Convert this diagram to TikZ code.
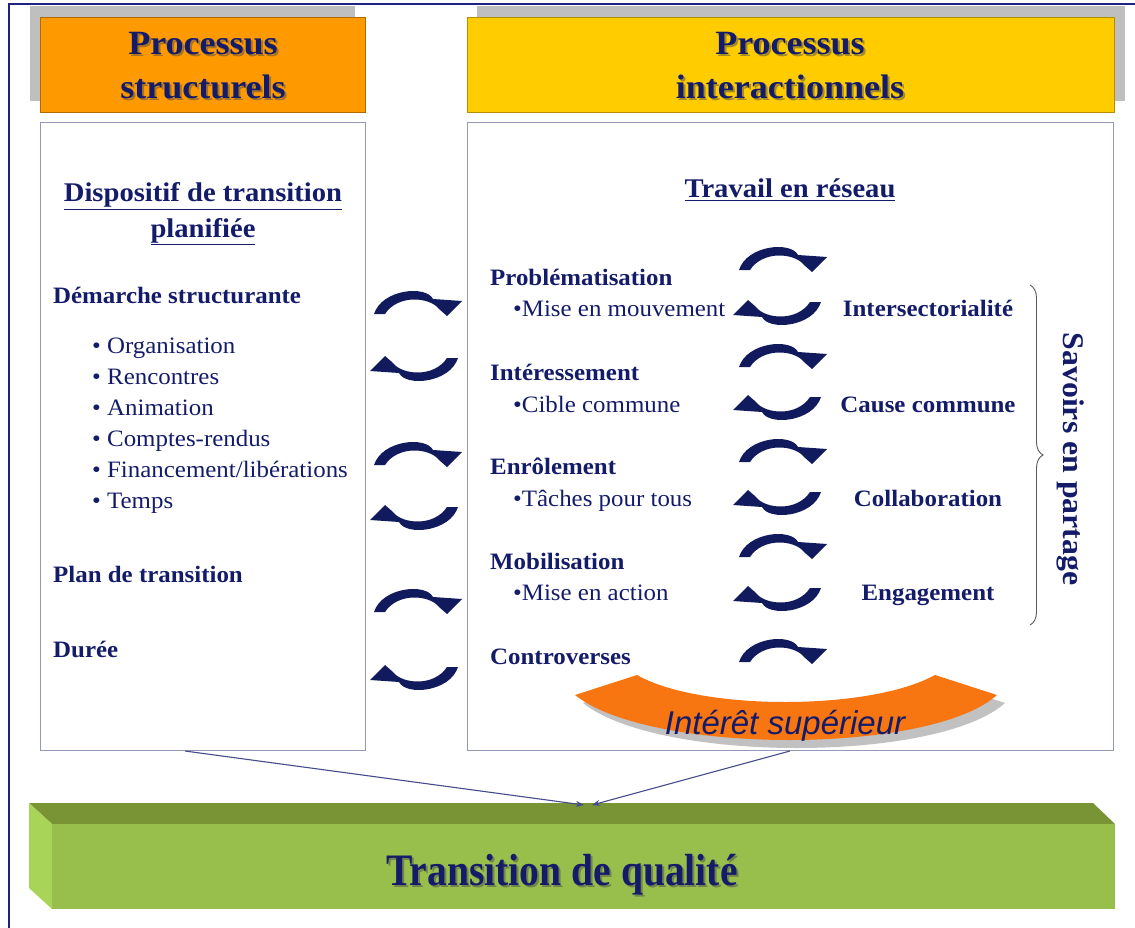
\documentclass[tikz,border=0pt]{standalone}
\usepackage{fontspec}
\setmainfont{Liberation Serif}[FakeStretch=1.06]
\newfontfamily\arialf{Liberation Sans}
\newfontfamily\condserif[FakeStretch=0.88]{Liberation Serif}
\usetikzlibrary{arrows.meta,decorations.pathreplacing}
\definecolor{navy}{RGB}{20,28,106}
\definecolor{arrnavy}{RGB}{16,26,92}
\definecolor{frameblue}{RGB}{30,35,130}
\definecolor{orangeH}{RGB}{255,153,0}
\definecolor{yellowH}{RGB}{255,204,0}
\definecolor{shadowgray}{RGB}{191,191,191}
\definecolor{boxline}{RGB}{150,150,185}
\definecolor{bandorange}{RGB}{247,118,18}
\definecolor{gtop}{RGB}{120,148,52}
\definecolor{gleft}{RGB}{168,212,88}
\definecolor{gfront}{RGB}{152,190,76}
\definecolor{connblue}{RGB}{70,75,140}
\begin{document}
\begin{tikzpicture}[x=1pt,y=-1pt,
  hdr/.style={font=\fontsize{34}{43}\selectfont\bfseries, text=navy, inner sep=0pt, anchor=base},
  hdrshadow/.style={hdr, text=black!70, opacity=0.5},
  body/.style={font=\fontsize{23.5}{28}\selectfont, text=navy, inner sep=0pt, anchor=base west},
  bodyb/.style={body, font=\fontsize{23.5}{28}\selectfont\bfseries},
  heading/.style={font=\fontsize{27}{32}\selectfont\bfseries, text=navy, inner sep=0pt, anchor=base},
  rlabel/.style={bodyb, anchor=base},
  contentbox/.style={draw=boxline, line width=1pt, fill=white, inner sep=0pt},
  conn/.style={draw=connblue, line width=1.1pt, -{Stealth[length=8pt,width=6pt]}},
  cwarrow/.pic={\fill[arrnavy] (-44,10) .. controls (-36,-15) and (8,-19) .. (15,-5) -- (44,-3) -- (29,12) -- (21,5) .. controls (12,-7) and (-20,-10) .. (-33,10) -- cycle;}
]
\useasboundingbox (0,0) rectangle (1135,928);
\fill[white] (0,0) rectangle (1135,928);
% outer frame
\draw[frameblue, line width=2pt] (9,928) -- (9,4) -- (1135,4);

% headers
\fill[shadowgray] (30,6) rectangle (355,101);
\node[draw=orangeH!70!black, line width=0.6pt, fill=orangeH, minimum width=325pt, minimum height=95pt, inner sep=0pt] (lhead) at (202.5,64.5) {};
\node[hdrshadow] (lh1s) at (205,57) {Processus};
\node[hdrshadow] (lh2s) at (205,101) {structurels};
\node[hdr] (lh1) at (203,55) {Processus};
\node[hdr] (lh2) at (203,99) {structurels};

\fill[shadowgray] (477,6) rectangle (1125,101);
\node[draw=yellowH!70!black, line width=0.6pt, fill=yellowH, minimum width=647pt, minimum height=95pt, inner sep=0pt] (rhead) at (790.5,64.5) {};
\node[hdrshadow] (rh1s) at (792,57) {Processus};
\node[hdrshadow] (rh2s) at (792,101) {interactionnels};
\node[hdr] (rh1) at (790,55) {Processus};
\node[hdr] (rh2) at (790,99) {interactionnels};

% content boxes
\node[contentbox, minimum width=325pt, minimum height=628pt] (lbox) at (202.5,436.5) {};
\node[contentbox, minimum width=646pt, minimum height=628pt] (rbox) at (790,436.5) {};

% left box text
\node[heading] (dt1) at (203,202) {\underline{Dispositif de transition}};
\node[heading] (dt2) at (203,237) {\underline{planifiée}};
\node[bodyb] (dem) at (53,303) {Démarche structurante};
\node[body] (b1) at (92,353) {• Organisation};
\node[body] (b2) at (92,384) {• Rencontres};
\node[body] (b3) at (92,415) {• Animation};
\node[body] (b4) at (92,446) {• Comptes-rendus};
\node[body] (b5) at (92,477) {• Financement/libérations};
\node[body] (b6) at (92,508) {• Temps};
\node[bodyb] (plan) at (53,582) {Plan de transition};
\node[bodyb] (duree) at (53,657) {Durée};

% right box text
\node[heading] (trav) at (790,198) {\underline{Travail en réseau}};
\node[bodyb] (p1) at (490,285) {Problématisation};
\node[body] (p1b) at (513,316) {•Mise en mouvement};
\node[bodyb] (p2) at (490,380) {Intéressement};
\node[body] (p2b) at (513,412) {•Cible commune};
\node[bodyb] (p3) at (490,474) {Enrôlement};
\node[body] (p3b) at (513,506) {•Tâches pour tous};
\node[bodyb] (p4) at (490,569) {Mobilisation};
\node[body] (p4b) at (513,600) {•Mise en action};
\node[bodyb] (p5) at (490,664) {Controverses};
\node[rlabel] (r1) at (928,316) {Intersectorialité};
\node[rlabel] (r2) at (928,412) {Cause commune};
\node[rlabel] (r3) at (928,506) {Collaboration};
\node[rlabel] (r4) at (928,600) {Engagement};

% brace and vertical label
\draw[black!65, line width=0.9pt, decorate, decoration={brace, amplitude=13pt}] (1030,285) -- (1030,625);
\node[font=\fontsize{30}{34}\selectfont\bfseries, text=navy, rotate=-90, inner sep=0pt] (sav) at (1071,459) {Savoirs en partage};

% circular arrows, left column
\pic at (418,304) {cwarrow};
\pic[rotate=180] at (414,368) {cwarrow};
\pic at (418,455) {cwarrow};
\pic[rotate=180] at (414,517) {cwarrow};
\pic at (418,602) {cwarrow};
\pic[rotate=180] at (414,677) {cwarrow};
% circular arrows, middle column
\pic at (783,260) {cwarrow};
\pic[rotate=180] at (777,312) {cwarrow};
\pic at (783,357) {cwarrow};
\pic[rotate=180] at (777,407) {cwarrow};
\pic at (783,452) {cwarrow};
\pic[rotate=180] at (777,502) {cwarrow};
\pic at (783,547) {cwarrow};
\pic[rotate=180] at (777,598) {cwarrow};
\pic at (783,652) {cwarrow};

% Interet superieur band
\fill[black!30, opacity=0.8] (644,683) .. controls (707,719) and (877,719) .. (943,683) -- (1005,703) .. controls (938,763) and (658,763) .. (583,703) -- cycle;
\fill[bandorange] (637,675) .. controls (700,711) and (870,711) .. (935,675) -- (997,695) .. controls (930,755) and (650,755) .. (575,695) -- cycle;
\node[font=\arialf\itshape\fontsize{33}{38}\selectfont, text=navy, inner sep=0pt, anchor=base] (band) at (785,734) {Intérêt supérieur};

% green 3D bar
\fill[gtop] (29,803) -- (1093,803) -- (1115,824) -- (52,824) -- cycle;
\fill[gleft] (29,803) -- (52,824) -- (52,909) -- (29,888) -- cycle;
\node[fill=gfront, minimum width=1063pt, minimum height=85pt, inner sep=0pt] (green) at (583.5,866.5) {};
\node[font=\condserif\bfseries\fontsize{45}{50}\selectfont, text=black!70, opacity=0.5, inner sep=0pt, anchor=base] (gts) at (564,887) {Transition de qualité};
\node[font=\condserif\bfseries\fontsize{45}{50}\selectfont, text=navy, inner sep=0pt, anchor=base] (gt) at (562,885) {Transition de qualité};

% connectors
\coordinate (lsrc) at (185,751);
\coordinate (rsrc) at (790,751);
\coordinate (gl) at (584,805);
\coordinate (gr) at (592,805);
\draw[conn] (lsrc) -- (gl);
\draw[conn] (rsrc) -- (gr);
\end{tikzpicture}
\end{document}
